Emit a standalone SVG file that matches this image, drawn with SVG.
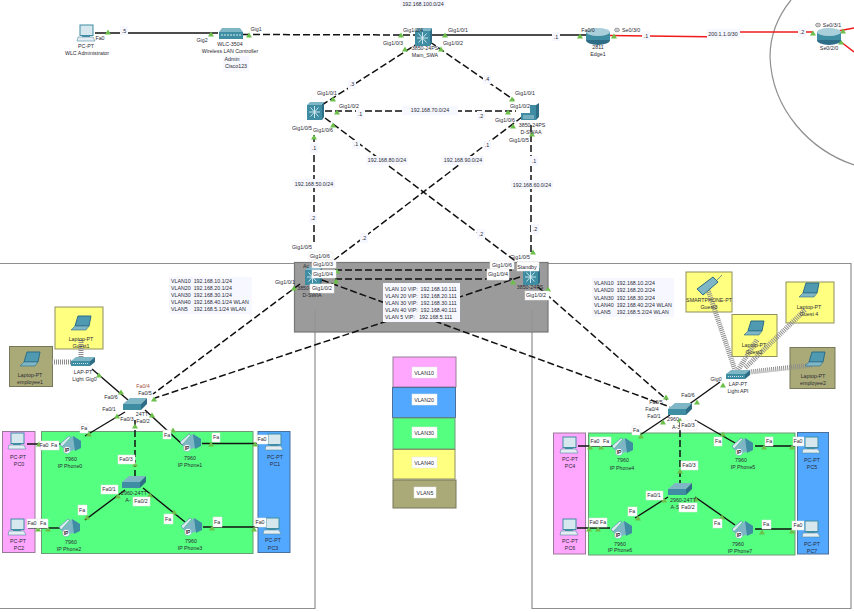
<svg xmlns="http://www.w3.org/2000/svg" xmlns:xlink="http://www.w3.org/1999/xlink" width="854" height="612" viewBox="0 0 854 612">
<style>
text{font-family:"Liberation Sans",Arial,sans-serif;font-size:5.3px;fill:#2a2a33;text-anchor:middle;white-space:pre}
text.s{text-anchor:start}
.z{fill:none;stroke:#8f8f8f;stroke-width:1.2}
.c{fill:none;stroke:#111;stroke-width:1.4}
.d{fill:none;stroke:#111;stroke-width:1.5;stroke-dasharray:7 3}
.r{fill:none;stroke:#f01c1c;stroke-width:1.5}
.w{fill:none;stroke:#8e8e8e;stroke-width:5;stroke-dasharray:1 1}
.b{fill:#f6f7ff}
.wb{fill:#fff;stroke:#e4e4e4;stroke-width:.5}
.pk{fill:#ffa6ff;stroke:#9a7a9a;stroke-width:1}
.bl{fill:#52a8ff;stroke:#4a6f9a;stroke-width:1}
.gr{fill:#55ff80;stroke:#6f9a78;stroke-width:1}
.ye{fill:#ffff80;stroke:#8f8f5f;stroke-width:1}
.ol{fill:#aaaa78;stroke:#77775a;stroke-width:1}
.t1{fill:#3f8da3}.t2{fill:#2d6d86}.t3{fill:#7fb6c6}
.ck{fill:none;stroke:#333;stroke-width:.5}
</style>
<defs>
<polygon id="tri" points="-3,2.4 0,-2.6 3,2.4" fill="#6cc04a"/>
<g id="clock"><ellipse cx="0" cy="0" rx="2.400" ry="1.800" class="ck"/><path d="M-1.500,0H1.500" class="ck"/></g>
<g id="pc">
<rect x="-7" y="-9" width="13" height="10.500" fill="#d6e8ee" stroke="#3f8da3" stroke-width="1"/>
<rect x="-5" y="1.500" width="8" height="1.500" fill="#3f8da3"/>
<polygon points="-9,3 6,3 8,7 -10,7" fill="#e4eef2" stroke="#4d8ca0" stroke-width=".6"/>
</g>
<g id="lap">
<polygon points="-3,-10 10,-10 8,0 -6,0" fill="#4f9ab0" stroke="#2d6d86" stroke-width="1"/>
<polygon points="-6,0 8,0 5,4 -10,4" fill="#7fb6c6" stroke="#2d6d86" stroke-width=".6"/>
</g>
<g id="smart">
<polygon points="-11,3 5,-9 10,-4 -5,9" fill="#7fb6c6" stroke="#2d6d86" stroke-width="1"/>
<line x1="9" y1="-6" x2="14" y2="-11" stroke="#2d6d86" stroke-width=".7"/>
</g>
<g id="phone">
<polygon points="-8,2 3,-9 11,-4 11,3 -3,7" class="t3"/>
<polygon points="3,-9 11,-4 11,3 5,6" class="t1"/>
<polygon points="-10,-1 -1,-9 1,-8 -8,2" fill="#dbe9ee" stroke="#3f8da3" stroke-width=".6"/>
<circle cx="-3" cy="5" r="3.600" fill="#fff" stroke="#3f8da3" stroke-width=".4"/>
<text x="-3" y="7" style="font-size:5px;font-weight:bold">IP</text>
</g>
<g id="sw">
<polygon points="-12,-1 -5,-7 12,-7 6,-1" class="t3"/>
<rect x="-12" y="-1" width="18" height="6" class="t1"/>
<polygon points="6,-1 12,-7 12,-1 6,5" class="t2"/>
</g>
<g id="ap">
<polygon points="-12,-1 -7,-5 12,-5 7,-1" class="t3"/>
<rect x="-12" y="-1" width="19" height="5" class="t1"/>
<polygon points="7,-1 12,-5 12,0 7,4" class="t2"/>
<line x1="-10" y1="1.500" x2="5" y2="1.500" stroke="#cfe6ec" stroke-width="1" stroke-dasharray="1 1"/>
</g>
<g id="l3">
<rect x="-8" y="-7" width="15" height="15" class="t1"/>
<polygon points="-8,-7 -5,-10 9,-10 7,-7" class="t3"/>
<polygon points="7,-7 9,-10 9,5 7,8" class="t2"/>
<path d="M-6,0H5M-.5,-6V6M-4.500,-4.500L3.500,4.500M-4.500,4.500L3.500,-4.500" stroke="#d8eef4" stroke-width=".9"/>
</g>
<g id="ms">
<rect x="-9" y="-1" width="15" height="7" class="t1"/>
<rect x="0" y="-9" width="6" height="8" class="t1"/>
<polygon points="6,-9 9,-11 9,3 6,6" class="t2"/>
<path d="M-7,2H4M-7,4H4" stroke="#d8eef4" stroke-width=".7"/>
</g>
<g id="rt">
<ellipse cx="0" cy="5" rx="12" ry="5" class="t2"/>
<rect x="-12" y="-3" width="24" height="8" class="t1"/>
<ellipse cx="0" cy="-3" rx="12" ry="4" fill="#a9cfda"/>
</g>
<g id="wlc">
<polygon points="-12,-2 -9,-6 9,-6 12,-2" class="t3"/>
<rect x="-12" y="-2" width="24" height="7" class="t1"/>
<path d="M-10,1H10" stroke="#d8eef4" stroke-width="1" stroke-dasharray="2 1"/>
</g>
</defs>

<rect x="0" y="0" width="854" height="612" fill="#fff"/>

<g id="zones">
<path class="z" d="M-1,263.500H315V608.500H-1"/>
<path class="z" d="M532,263.500H851V608.500H532Z"/>
<path class="z" d="M791,0C778,16 770,36 770,57C772,110 810,150 854,165"/>
<rect x="294.500" y="262.500" width="253.500" height="69.500" fill="#9b9b9b" stroke="#777" stroke-width="1.200"/>
<path class="z" d="M315,310V332M532,310V332" stroke-opacity=".6"/>
<rect x="2.500" y="431.500" width="32.500" height="121" class="pk"/>
<rect x="41.500" y="431.500" width="211.500" height="122" class="gr"/>
<rect x="258" y="431.500" width="32" height="121" class="bl"/>
<rect x="553.500" y="433" width="32" height="121" class="pk"/>
<rect x="588.500" y="433" width="206.500" height="122" class="gr"/>
<rect x="797.500" y="432.500" width="31" height="121.500" class="bl"/>
<rect x="55" y="307" width="48" height="42" class="ye"/>
<rect x="9.500" y="346.500" width="43" height="40" class="ol"/>
<rect x="686" y="272" width="46" height="40" class="ye"/>
<rect x="732" y="314.500" width="45" height="42" class="ye"/>
<rect x="786" y="282" width="48" height="41" class="ye"/>
<rect x="790" y="347.500" width="45" height="41" class="ol"/>
</g>

<g id="legend">
<rect x="393" y="357" width="63" height="30" class="pk"/>
<rect x="392.500" y="387.500" width="63" height="30" class="bl"/>
<rect x="393" y="418" width="62" height="31" class="gr"/>
<rect x="393" y="449.500" width="62" height="29.500" class="ye"/>
<rect x="393" y="480" width="63" height="28" class="ol"/>
<rect class="wb" x="412" y="367" width="25" height="11"/><text x="424" y="374.500">VLAN10</text>
<rect class="wb" x="412" y="394" width="25" height="11"/><text x="424" y="401.500">VLAN20</text>
<rect class="wb" x="412" y="427" width="25" height="11"/><text x="424" y="434.500">VLAN30</text>
<rect class="wb" x="412" y="457" width="25" height="11"/><text x="424" y="464.500">VLAN40</text>
<rect class="wb" x="414" y="487" width="22" height="11"/><text x="425" y="494.500">VLAN5</text>
</g>

<g id="connectors">
<path class="c" d="M95,33H218"/>
<path class="d" d="M243,34.500L420,35"/>
<path class="c" d="M432,35H590"/>
<path class="r" d="M610,35.500L707,36.800L740,32L813,32"/>
<path class="r" d="M838,31L854,28M841,42L854,52"/>
<path class="d" d="M420,42L322,105"/>
<path class="d" d="M430,42L514,100"/>
<path class="d" d="M325,111H516"/>
<path class="d" d="M325,118L522,266"/>
<path class="d" d="M522,117L334,260"/>
<path class="d" d="M314,135V245"/>
<path class="d" d="M531,125V252"/>
<path class="d" d="M335,270H515"/>
<path class="d" d="M335,279H515"/>
<path class="d" d="M300,284L153,394"/>
<path class="d" d="M520,277L155,398"/>
<path class="d" d="M538,287L667,400"/>
<path class="d" d="M322,280L670,407"/>
<path class="w" d="M52,362H72"/>
<path class="w" d="M81,340V357"/>
<path class="w" d="M708,290L735,370"/>
<path class="w" d="M757,340L738,370"/>
<path class="w" d="M805,310L745,368"/>
<path class="w" d="M812,365L750,372"/>
<path class="c" d="M92,369L128,400"/>
<path class="c" d="M125,412L85,436"/>
<path class="c" d="M145,410L183,445"/>
<path class="d" d="M135,420V477"/>
<path class="c" d="M125,490L85,520"/>
<path class="c" d="M143,488L185,522"/>
<path class="c" d="M27,444H62"/>
<path class="c" d="M202,443.500H258"/>
<path class="c" d="M28,528H60"/>
<path class="c" d="M203,527H258"/>
<path class="c" d="M720,382L688,405"/>
<path class="c" d="M670,415L640,435"/>
<path class="c" d="M695,420L735,443"/>
<path class="d" d="M680,420V485"/>
<path class="c" d="M668,497L635,518"/>
<path class="c" d="M695,497L735,525"/>
<path class="c" d="M578,446H615"/>
<path class="c" d="M755,446H795"/>
<path class="c" d="M577,528H610"/>
<path class="c" d="M755,529H795"/>
</g>

<g id="ports">
<use href="#clock" x="617" y="30"/><use href="#clock" x="818" y="25"/>
<use href="#tri" x="108" y="32"/><use href="#tri" x="211" y="34"/><use href="#tri" x="249" y="35"/><use href="#tri" x="401" y="35"/><use href="#tri" x="405" y="49"/><use href="#tri" x="445" y="35"/><use href="#tri" x="441" y="49"/><use href="#tri" x="580" y="36"/><use href="#tri" x="614" y="36"/><use href="#tri" x="813" y="33"/><use href="#tri" x="843" y="31"/><use href="#tri" x="841" y="42"/>
<use href="#tri" x="333" y="99"/><use href="#tri" x="337" y="112"/><use href="#tri" x="512" y="99"/><use href="#tri" x="508" y="112"/><use href="#tri" x="513" y="126"/><use href="#tri" x="532" y="134"/><use href="#tri" x="314" y="137"/><use href="#tri" x="333" y="125"/>
<use href="#tri" x="337" y="271"/><use href="#tri" x="336" y="281"/><use href="#tri" x="294" y="288"/><use href="#tri" x="533" y="252"/><use href="#tri" x="513" y="282"/><use href="#tri" x="548" y="289"/>
<use href="#tri" x="99" y="375"/><use href="#tri" x="121" y="392"/><use href="#tri" x="154" y="399"/><use href="#tri" x="117" y="416"/><use href="#tri" x="152" y="415"/><use href="#tri" x="135" y="426"/><use href="#tri" x="89" y="434"/><use href="#tri" x="39" y="444"/><use href="#tri" x="49" y="445"/><use href="#tri" x="173" y="430"/><use href="#tri" x="211" y="444"/><use href="#tri" x="255" y="444"/><use href="#tri" x="135" y="464"/><use href="#tri" x="118" y="496"/><use href="#tri" x="150" y="495"/><use href="#tri" x="87" y="517"/><use href="#tri" x="38" y="529"/><use href="#tri" x="48" y="529"/><use href="#tri" x="174" y="512"/><use href="#tri" x="212" y="528"/><use href="#tri" x="254" y="529"/>
<use href="#tri" x="723" y="385"/><use href="#tri" x="697" y="402"/><use href="#tri" x="666" y="397"/><use href="#tri" x="663" y="422"/><use href="#tri" x="641" y="436"/><use href="#tri" x="590" y="447"/><use href="#tri" x="601" y="447"/><use href="#tri" x="723" y="434"/><use href="#tri" x="764" y="447"/><use href="#tri" x="792" y="447"/><use href="#tri" x="680" y="471"/><use href="#tri" x="664" y="500"/><use href="#tri" x="696" y="499"/><use href="#tri" x="638" y="518"/><use href="#tri" x="589" y="529"/><use href="#tri" x="598" y="529"/><use href="#tri" x="722" y="517"/><use href="#tri" x="762" y="532"/><use href="#tri" x="792" y="531"/><use href="#tri" x="680" y="420"/>
</g>

<g id="link-labels">
<rect class="b" x="120" y="26" width="8" height="9"/><text x="124" y="33">.5</text>
<rect class="b" x="400" y="0" width="46" height="7"/><text x="423" y="5.500">192.168.100.0/24</text>
<rect class="b" x="552" y="32" width="8" height="9"/><text x="556" y="38.500">.1</text>
<rect class="b" x="642" y="31" width="8" height="9"/><text x="646" y="37.500">.1</text>
<rect class="b" x="707" y="29" width="33" height="9"/><text x="723" y="36">200.1.1.0/30</text>
<rect class="b" x="798" y="28" width="8" height="9"/><text x="802" y="34">.2</text>
<rect class="b" x="348" y="80" width="8" height="9"/><text x="352" y="86">.3</text>
<rect class="b" x="483" y="75" width="8" height="9"/><text x="487" y="81">.4</text>
<rect class="b" x="356" y="110" width="8" height="9"/><text x="360" y="116">.1</text>
<rect class="b" x="477" y="111" width="8" height="9"/><text x="481" y="118">.2</text>
<rect class="b" x="402" y="106" width="56" height="9"/><text x="430" y="112">192.168.70.0/24</text>
<rect class="b" x="352" y="140" width="8" height="9"/><text x="356" y="146">.1</text>
<rect class="b" x="483" y="141" width="8" height="9"/><text x="487" y="147">.1</text>
<rect class="b" x="310" y="143" width="8" height="10"/><text x="314" y="150">.1</text>
<rect class="b" x="530" y="156" width="8" height="10"/><text x="534" y="163">.1</text>
<rect class="b" x="366" y="156" width="42" height="9"/><text x="387" y="162">192.168.80.0/24</text>
<rect class="b" x="442" y="156" width="42" height="9"/><text x="463" y="162">192.168.90.0/24</text>
<rect class="b" x="293" y="179" width="42" height="9"/><text x="314" y="185.500">192.168.50.0/24</text>
<rect class="b" x="511" y="180" width="42" height="9"/><text x="532" y="186.500">192.168.60.0/24</text>
<rect class="b" x="309" y="213" width="8" height="10"/><text x="313" y="220">.2</text>
<rect class="b" x="531" y="224" width="8" height="10"/><text x="535" y="231">.2</text>
<rect class="b" x="360" y="233" width="8" height="10"/><text x="364" y="240">.2</text>
<rect class="b" x="477" y="229" width="8" height="10"/><text x="481" y="236">.2</text>
<rect class="b" x="169" y="277" width="83" height="37"/>
<text class="s" x="171" y="283">VLAN10  192.168.10.1/24</text>
<text class="s" x="171" y="290">VLAN20  192.168.20.1/24</text>
<text class="s" x="171" y="297">VLAN30  192.168.30.1/24</text>
<text class="s" x="171" y="304">VLAN40  192.168.40.1/24 WLAN</text>
<text class="s" x="171" y="311">VLAN5    192.168.5.1/24 WLAN</text>
<rect class="b" x="592" y="278" width="82" height="39"/>
<text class="s" x="594" y="285">VLAN10  192.168.10.2/24</text>
<text class="s" x="594" y="292">VLAN20  192.168.20.2/24</text>
<text class="s" x="594" y="300">VLAN30  192.168.30.2/24</text>
<text class="s" x="594" y="307">VLAN40  192.168.40.2/24 WLAN</text>
<text class="s" x="594" y="314">VLAN5    192.168.5.2/24 WLAN</text>
<rect class="b" x="383" y="283" width="77" height="39"/>
<text class="s" x="385" y="291">VLAN 10 VIP:  192.168.10.111</text>
<text class="s" x="385" y="298">VLAN 20 VIP:  192.168.20.111</text>
<text class="s" x="385" y="305">VLAN 30 VIP:  192.168.30.111</text>
<text class="s" x="385" y="312">VLAN 40 VIP:  192.168.40.111</text>
<text class="s" x="385" y="319">VLAN 5 VIP:   192.168.5.111</text>
</g>

<g id="n-wlcadmin"><use href="#pc" x="87" y="34"/><text x="86" y="48">PC-PT</text><text x="87" y="55">WLC Administrator</text><text x="100" y="40">Fa0</text></g>
<g id="n-wlc"><use href="#wlc" x="231" y="34"/><text x="202" y="42">Gig2</text><text x="256" y="31">Gig1</text><text x="230" y="46">WLC-3504</text><text x="230" y="53">Wireless LAN Controller</text><rect class="b" x="223" y="56" width="26" height="15"/><text x="232" y="61">Admin</text><text x="236" y="68">Cisco123</text></g>
<g id="n-main"><use href="#l3" x="423" y="38"/><text x="413" y="32">Gig1/0/4</text><text x="393" y="45">Gig1/0/3</text><text x="458" y="32">Gig1/0/1</text><text x="453" y="45">Gig1/0/2</text><text x="425" y="50">3850-24PS</text><text x="425" y="57">Main_SWA</text></g>
<g id="n-edge"><use href="#rt" x="598" y="35"/><text x="588" y="32">Fa0/0</text><text class="s" x="622" y="32">Se0/3/0</text><text x="598" y="49">2811</text><text x="598" y="56">Edge1</text></g>
<g id="n-isp"><use href="#rt" x="829" y="35"/><text x="832" y="27">Se0/3/1</text><text x="829" y="50">Se0/2/0</text></g>
<g id="n-dsw"><use href="#l3" x="315" y="112"/><text x="327" y="95">Gig1/0/1</text><text x="349" y="108">Gig1/0/2</text><text x="302" y="130">Gig1/0/5</text><text x="323" y="132">Gig1/0/6</text></g>
<g id="n-dswaa"><use href="#ms" x="530" y="114"/><text x="525" y="95">Gig1/0/1</text><text x="520" y="108">Gig1/0/2</text><text x="505" y="122">Gig1/0/6</text><text x="532" y="127">3850-24PS</text><text x="531" y="134">D-SWAA</text><text x="519" y="142">Gig1/0/5</text></g>
<g id="n-active"><use href="#l3" x="313" y="277"/><text x="302" y="249">Gig1/0/5</text><text x="306" y="268">Ac</text><text x="304" y="290">3850-</text><rect class="wb" x="309" y="252" width="24" height="8"/><text x="320" y="258">Gig1/0/6</text><rect class="wb" x="312" y="260" width="24" height="8"/><text x="323" y="266">Gig1/0/3</text><rect class="wb" x="312" y="270" width="24" height="8"/><text x="323" y="276">Gig1/0/4</text><rect class="wb" x="310" y="284" width="24" height="9"/><text x="322" y="290">Gig1/0/2</text><text x="285" y="284">Gig1/0/1</text><text x="312" y="297">D-SWIA</text></g>
<g id="n-standby"><use href="#l3" x="531" y="277"/><rect class="wb" x="490" y="261" width="24" height="8"/><text x="502" y="267">Gig1/0/6</text><rect class="wb" x="487" y="269" width="22" height="11"/><text x="498" y="276">Gig1/0/4</text><text x="520" y="259">Gig1/0/5</text><rect class="wb" x="517" y="262" width="22" height="9"/><text x="527" y="269">Standby</text><text x="530" y="289">3850-24PS</text><rect class="wb" x="525" y="291" width="24" height="9"/><text x="536" y="297">Gig1/0/2</text></g>

<g id="n-guest1"><use href="#lap" x="81" y="326"/><text x="81" y="341">Laptop-PT</text><text x="81" y="348">Guest1</text></g>
<g id="n-emp1"><use href="#lap" x="30" y="362"/><text x="30" y="377">Laptop-PT</text><text x="30" y="384">employee1</text></g>
<g id="n-apl"><use href="#ap" x="83" y="362"/><text x="83" y="374">LAP-PT</text><text x="78" y="381">Light</text><text x="91" y="381">Gig0</text></g>
<g id="n-asw1"><use href="#sw" x="135" y="405"/><text x="143" y="388" style="fill:#a05040">Fa0/4</text><text x="111" y="399">Fa0/6</text><text x="145" y="395">Fa0/5</text><text x="109" y="411">Fa0/1</text><text x="142" y="416">24TT</text><text x="127" y="421">Fa0/3</text><text x="143" y="423">Fa0/2</text></g>
<g id="n-asw2"><use href="#sw" x="134" y="483"/><rect class="wb" x="118" y="455" width="17" height="9"/><text x="126" y="461">Fa0/3</text><text x="134" y="495">2960-24TT</text><text x="128" y="502">A-</text><rect class="wb" x="133" y="497" width="17" height="9"/><text x="141" y="503">Fa0/2</text><rect class="wb" x="101" y="485" width="17" height="9"/><text x="109" y="491">Fa0/1</text></g>
<g id="n-ph0"><use href="#phone" x="70" y="445"/><rect class="wb" x="80" y="424" width="8" height="9"/><text x="84" y="430">Fa</text><text x="71" y="461">7960</text><text x="70" y="468">IP Phone0</text></g>
<g id="n-ph1"><use href="#phone" x="190" y="443"/><rect class="wb" x="163" y="430" width="8" height="9"/><text x="167" y="437">Fa</text><rect class="wb" x="212" y="433" width="8" height="9"/><text x="216" y="439">Fa</text><text x="190" y="460">7960</text><text x="190" y="467">IP Phone1</text></g>
<g id="n-ph2"><use href="#phone" x="69" y="528"/><rect class="wb" x="78" y="505" width="9" height="10"/><text x="82" y="512">Fa</text><text x="71" y="544">7960</text><text x="69" y="551">IP Phone2</text></g>
<g id="n-ph3"><use href="#phone" x="191" y="527"/><rect class="wb" x="164" y="514" width="9" height="10"/><text x="168" y="521">Fa</text><rect class="wb" x="213" y="517" width="9" height="10"/><text x="217" y="524">Fa</text><text x="191" y="543">7960</text><text x="190" y="550">IP Phone3</text></g>
<g id="n-pc0"><use href="#pc" x="18" y="442"/><rect class="wb" x="40" y="441" width="19" height="9"/><text x="44" y="447">Fa0</text><text x="54" y="447">Fa</text><text x="18" y="459">PC-PT</text><text x="19" y="466">PC0</text></g>
<g id="n-pc2"><use href="#pc" x="18" y="528"/><rect class="wb" x="27" y="519" width="21" height="9"/><text x="32" y="525">Fa0</text><text x="43" y="525">Fa</text><text x="18" y="543">PC-PT</text><text x="19" y="550">PC2</text></g>
<g id="n-pc1"><use href="#pc" x="275" y="443"/><rect class="wb" x="257" y="435" width="11" height="9"/><text x="262" y="441">Fa0</text><text x="275" y="459">PC-PT</text><text x="275" y="466">PC1</text></g>
<g id="n-pc3"><use href="#pc" x="273" y="527"/><rect class="wb" x="255" y="518" width="11" height="9"/><text x="260" y="524">Fa0</text><text x="273" y="542">PC-PT</text><text x="273" y="550">PC3</text></g>

<g id="n-guest3"><use href="#smart" x="708" y="286"/><text x="709" y="302">SMARTPHONE-PT</text><text x="709" y="309">Guest3</text></g>
<g id="n-guest2"><use href="#lap" x="754" y="331"/><text x="754" y="347">Laptop-PT</text><text x="754" y="354">Guest2</text></g>
<g id="n-guest4"><use href="#lap" x="809" y="293"/><text x="809" y="309">Laptop-PT</text><text x="809" y="316">Guest 4</text></g>
<g id="n-emp2"><use href="#lap" x="815" y="362"/><text x="813" y="378">Laptop-PT</text><text x="813" y="385">employee2</text></g>
<g id="n-apr"><use href="#ap" x="738" y="375"/><text x="738" y="386">LAP-PT</text><text x="738" y="393">Light API</text><text x="716" y="381">Gig0</text></g>
<g id="n-asw3"><use href="#sw" x="680" y="410"/><text x="688" y="397">Fa0/6</text><text x="656" y="404">Fa0/5</text><text x="652" y="411">Fa0/4</text><text x="654" y="418">Fa0/1</text><text x="673" y="421">2960</text><text x="676" y="429">A-3</text><rect class="wb" x="680" y="421" width="17" height="9"/><text x="688" y="427">Fa0/3</text></g>
<g id="n-asw4"><use href="#sw" x="680" y="490"/><rect class="wb" x="681" y="461" width="17" height="9"/><text x="689" y="467">Fa0/3</text><text x="683" y="502">2960-24TT</text><text x="675" y="509">A-S</text><rect class="wb" x="679" y="503" width="18" height="9"/><text x="688" y="509">Fa0/2</text><rect class="wb" x="646" y="491" width="17" height="9"/><text x="654" y="497">Fa0/1</text></g>
<g id="n-ph4"><use href="#phone" x="622" y="447"/><rect class="wb" x="632" y="426" width="8" height="9"/><text x="636" y="432">Fa</text><text x="623" y="462">7960</text><text x="622" y="470">IP Phone4</text></g>
<g id="n-ph5"><use href="#phone" x="742" y="447"/><rect class="wb" x="714" y="437" width="8" height="9"/><text x="718" y="443">Fa</text><rect class="wb" x="765" y="437" width="8" height="9"/><text x="769" y="443">Fa</text><text x="741" y="462">7960</text><text x="743" y="469">IP Phone5</text></g>
<g id="n-ph6"><use href="#phone" x="621" y="530"/><rect class="wb" x="628" y="507" width="9" height="9"/><text x="632" y="513">Fa</text><text x="620" y="546">7960</text><text x="620" y="552">IP Phone6</text></g>
<g id="n-ph7"><use href="#phone" x="742" y="530"/><rect class="wb" x="713" y="519" width="9" height="9"/><text x="717" y="525">Fa</text><rect class="wb" x="762" y="520" width="9" height="9"/><text x="766" y="526">Fa</text><text x="738" y="546">7960</text><text x="740" y="553">IP Phone7</text></g>
<g id="n-pc4"><use href="#pc" x="570" y="446"/><rect class="wb" x="590" y="437" width="21" height="9"/><text x="595" y="443">Fa0</text><text x="606" y="443">Fa</text><text x="570" y="461">PC-PT</text><text x="570" y="468">PC4</text></g>
<g id="n-pc5"><use href="#pc" x="812" y="446"/><rect class="wb" x="793" y="437" width="11" height="9"/><text x="798" y="443">Fa0</text><text x="812" y="462">PC-PT</text><text x="812" y="469">PC5</text></g>
<g id="n-pc6"><use href="#pc" x="570" y="528"/><rect class="wb" x="589" y="518" width="18" height="9"/><text x="594" y="524">Fa0</text><text x="603" y="524">Fa</text><text x="570" y="543">PC-PT</text><text x="570" y="550">PC6</text></g>
<g id="n-pc7"><use href="#pc" x="812" y="530"/><rect class="wb" x="792" y="521" width="12" height="9"/><text x="798" y="527">Fa0</text><text x="812" y="546">PC-PT</text><text x="812" y="553">PC7</text></g>
</svg>
